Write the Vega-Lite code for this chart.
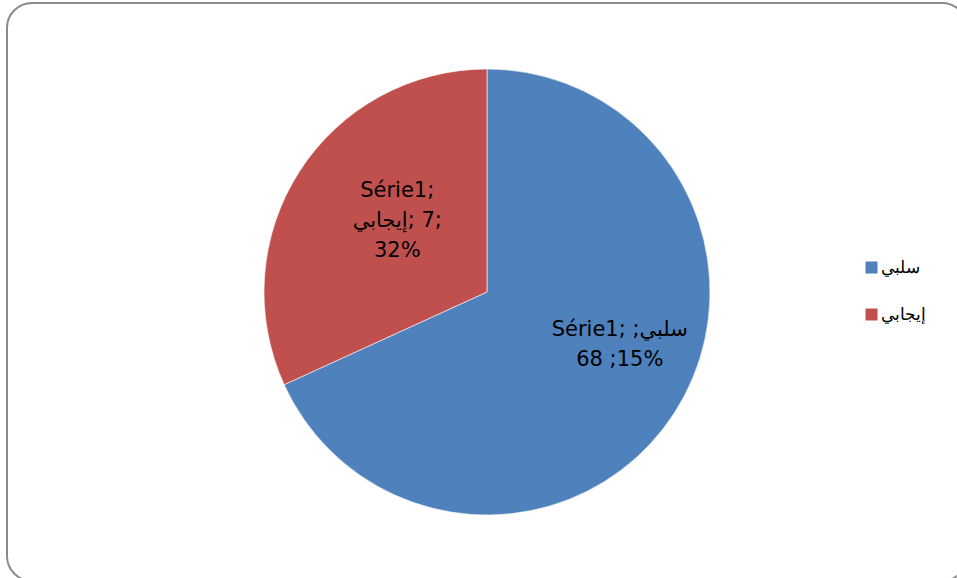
{
  "$schema": "https://vega.github.io/schema/vega-lite/v6.json",
  "width": 960,
  "height": 578,
  "autosize": {"type": "none"},
  "padding": {"left": 7, "top": 3, "right": 0, "bottom": 0},
  "background": "white",
  "config": {
    "view": {"stroke": null},
    "font": "Liberation Sans"
  },
  "data": {
    "values": [
      {"Catégorie": "سلبي", "Valeur": 15, "Étiquette": "\u200eSérie1;  ;سلبي\u200e\n\u200e68 ;15%"},
      {"Catégorie": "إيجابي", "Valeur": 7, "Étiquette": "Série1;\n\u200eإيجابي\u200e; 7;\n\u200e32%"}
    ]
  },
  "layer": [
    {
      "data": {"values": [{}]},
      "mark": {"type": "rect", "cornerRadius": 25, "fill": "transparent", "stroke": "#8a8a8a", "strokeWidth": 2},
      "encoding": {}
    },
    {
      "mark": {"type": "arc", "outerRadius": 223, "stroke": "white", "strokeWidth": 0.6},
      "encoding": {
        "theta": {"field": "Valeur", "type": "quantitative", "stack": true},
        "order": {"field": "Catégorie", "sort": "descending"},
        "color": {
          "field": "Catégorie",
          "type": "nominal",
          "scale": {"domain": ["سلبي", "إيجابي"], "range": ["#4F81BD", "#C0504D"]},
          "legend": {
            "orient": "none",
            "legendX": 856,
            "legendY": 256,
            "title": null,
            "symbolType": "square",
            "symbolSize": 144,
            "symbolStrokeWidth": 0,
            "labelFontSize": 17,
            "labelFont": "Liberation Sans",
            "labelColor": "black",
            "rowPadding": 29,
            "labelOffset": 1,
            "padding": 0
          }
        }
      }
    },
    {
      "mark": {"type": "text", "radius": 115, "dx": 7, "dy": -39, "font": "DejaVu Sans", "fontSize": 21, "lineBreak": "\n", "lineHeight": 30, "align": "center", "baseline": "middle", "color": "black"},
      "encoding": {
        "theta": {"field": "Valeur", "type": "quantitative", "stack": true},
        "order": {"field": "Catégorie", "sort": "descending"},
        "text": {"condition": {"test": "datum['Catégorie'] === 'إيجابي'", "field": "Étiquette"}, "value": ""}
      }
    },
    {
      "mark": {"type": "text", "radius": 140, "dx": 15, "dy": -38, "font": "DejaVu Sans", "fontSize": 21, "lineBreak": "\n", "lineHeight": 30, "align": "center", "baseline": "middle", "color": "black"},
      "encoding": {
        "theta": {"field": "Valeur", "type": "quantitative", "stack": true},
        "order": {"field": "Catégorie", "sort": "descending"},
        "text": {"condition": {"test": "datum['Catégorie'] === 'سلبي'", "field": "Étiquette"}, "value": ""}
      }
    }
  ]
}
